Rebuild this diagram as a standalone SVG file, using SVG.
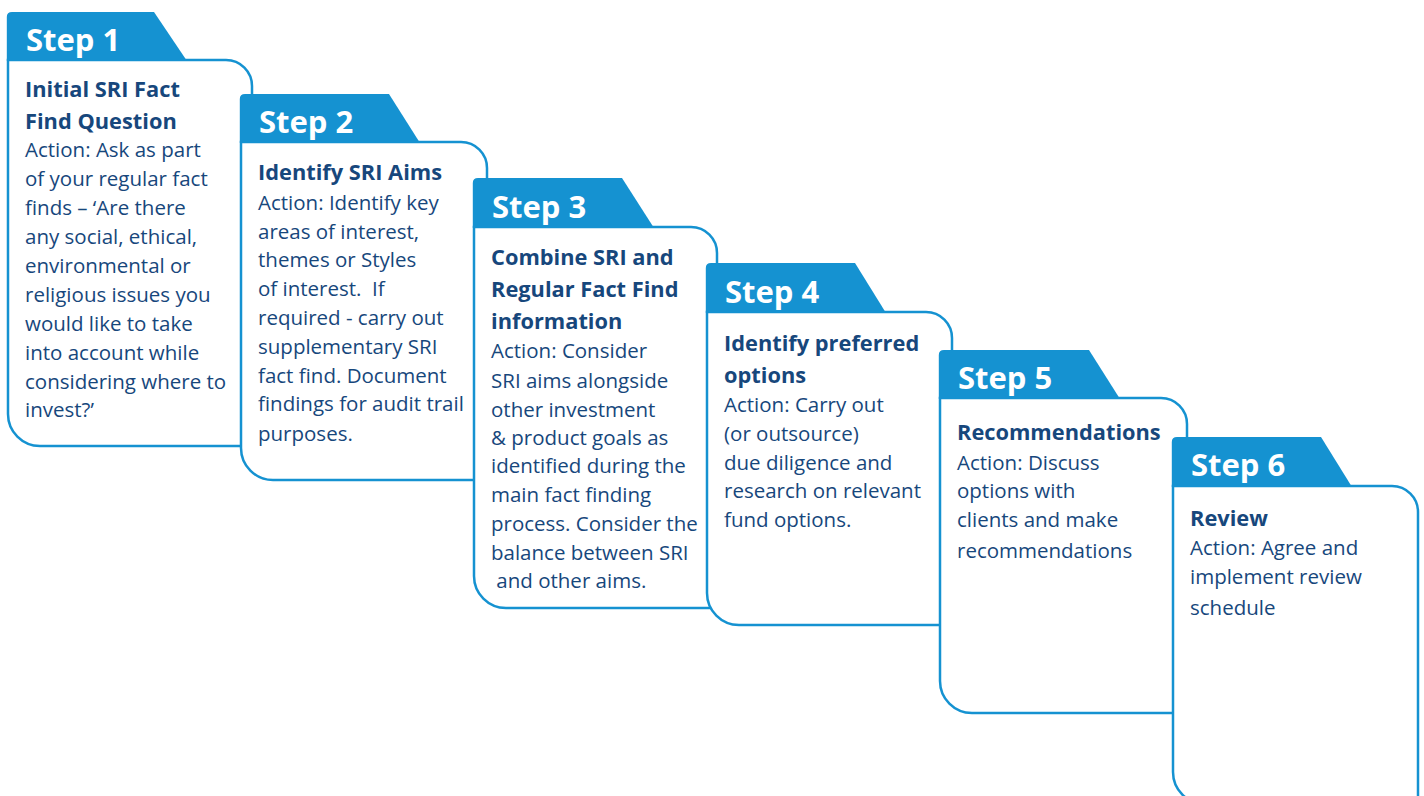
<svg xmlns="http://www.w3.org/2000/svg" width="1424" height="796" viewBox="0 0 1424 796">
<style>
.tab{fill:#1592d1;}
.body{fill:#ffffff;stroke:#1592d1;stroke-width:2.5;}
.title{font-family:"Open Sans",sans-serif;font-weight:700;font-size:31px;fill:#ffffff;}
.head{font-family:"Open Sans",sans-serif;font-weight:700;font-size:21.8px;fill:#17477c;}
.txt{font-family:"Open Sans",sans-serif;font-size:20.5px;fill:#17477c;}
</style>
<rect width="1424" height="796" fill="#ffffff"/>
<g id="connectors"></g>

<g id="step1">
<path class="body" d="M8,60 L226,60 A26,26 0 0 1 252,86 L252,446 L40,446 A32,32 0 0 1 8,414 Z"/>
<path class="tab" d="M6.8,61 L6.8,17 Q6.8,12 12,12 L154,12 L187,61 Z"/>
<text class="title" x="26" y="51">Step 1</text>
<text class="head" x="25" y="97">Initial SRI Fact</text>
<text class="head" x="25" y="129">Find Question</text>
<text class="txt" x="25"><tspan x="25" y="157">Action: Ask as part</tspan><tspan x="25" y="186">of your regular fact</tspan><tspan x="25" y="215">finds – ‘Are there</tspan><tspan x="25" y="244">any social, ethical,</tspan><tspan x="25" y="273">environmental or</tspan><tspan x="25" y="302">religious issues you</tspan><tspan x="25" y="331">would like to take</tspan><tspan x="25" y="360">into account while</tspan><tspan x="25" y="389">considering where to</tspan><tspan x="25" y="417">invest?’</tspan></text>
</g>

<g id="step2">
<path class="body" d="M241,142 L461,142 A26,26 0 0 1 487,168 L487,480 L273,480 A32,32 0 0 1 241,448 Z"/>
<path class="tab" d="M239.8,143 L239.8,99 Q239.8,94 245,94 L389,94 L420,143 Z"/>
<text class="title" x="259" y="133">Step 2</text>
<text class="head" x="258" y="180">Identify SRI Aims</text>
<text class="txt" xml:space="preserve"><tspan x="258" y="210">Action: Identify key</tspan><tspan x="258" y="239">areas of interest,</tspan><tspan x="258" y="267">themes or Styles</tspan><tspan x="258" y="296">of interest.  If</tspan><tspan x="258" y="325">required - carry out</tspan><tspan x="258" y="354">supplementary SRI</tspan><tspan x="258" y="383">fact find. Document</tspan><tspan x="258" y="411">findings for audit trail</tspan><tspan x="258" y="441">purposes.</tspan></text>
</g>

<g id="step3">
<path class="body" d="M474,227 L691,227 A26,26 0 0 1 717,253 L717,608 L506,608 A32,32 0 0 1 474,576 Z"/>
<path class="tab" d="M472.8,228 L472.8,183 Q472.8,178 478,178 L622,178 L654,228 Z"/>
<text class="title" x="492" y="218">Step 3</text>
<text class="head"><tspan x="491" y="265">Combine SRI and</tspan><tspan x="491" y="297">Regular Fact Find</tspan><tspan x="491" y="329">information</tspan></text>
<text class="txt" xml:space="preserve"><tspan x="491" y="358">Action: Consider</tspan><tspan x="491" y="388">SRI aims alongside</tspan><tspan x="491" y="417">other investment</tspan><tspan x="491" y="445">&amp; product goals as</tspan><tspan x="491" y="473">identified during the</tspan><tspan x="491" y="502">main fact finding</tspan><tspan x="491" y="531">process. Consider the</tspan><tspan x="491" y="560">balance between SRI</tspan><tspan x="491" y="588"> and other aims.</tspan></text>
</g>

<g id="step4">
<path class="body" d="M707,312 L926,312 A26,26 0 0 1 952,338 L952,625 L739,625 A32,32 0 0 1 707,593 Z"/>
<path class="tab" d="M705.8,313 L705.8,268 Q705.8,263 711,263 L855,263 L886,313 Z"/>
<text class="title" x="725" y="303">Step 4</text>
<text class="head"><tspan x="724" y="351">Identify preferred</tspan><tspan x="724" y="383">options</tspan></text>
<text class="txt"><tspan x="724" y="412">Action: Carry out</tspan><tspan x="724" y="441">(or outsource)</tspan><tspan x="724" y="470">due diligence and</tspan><tspan x="724" y="498">research on relevant</tspan><tspan x="724" y="527">fund options.</tspan></text>
</g>

<g id="step5">
<path class="body" d="M940,398 L1161,398 A26,26 0 0 1 1187,424 L1187,713 L972,713 A32,32 0 0 1 940,681 Z"/>
<path class="tab" d="M938.8,399 L938.8,355 Q938.8,350 944,350 L1089,350 L1120,399 Z"/>
<text class="title" x="958" y="389">Step 5</text>
<text class="head" x="957" y="440">Recommendations</text>
<text class="txt"><tspan x="957" y="470">Action: Discuss</tspan><tspan x="957" y="498">options with</tspan><tspan x="957" y="527">clients and make</tspan><tspan x="957" y="558">recommendations</tspan></text>
</g>

<g id="step6">
<path class="body" d="M1173,486 L1392,486 A26,26 0 0 1 1418,512 L1418,804 L1205,804 A32,32 0 0 1 1173,772 Z"/>
<path class="tab" d="M1171.8,487 L1171.8,442 Q1171.8,437 1177,437 L1321,437 L1352,487 Z"/>
<text class="title" x="1191" y="476">Step 6</text>
<text class="head" x="1190" y="526">Review</text>
<text class="txt"><tspan x="1190" y="555">Action: Agree and</tspan><tspan x="1190" y="584">implement review</tspan><tspan x="1190" y="615">schedule</tspan></text>
</g>
</svg>
